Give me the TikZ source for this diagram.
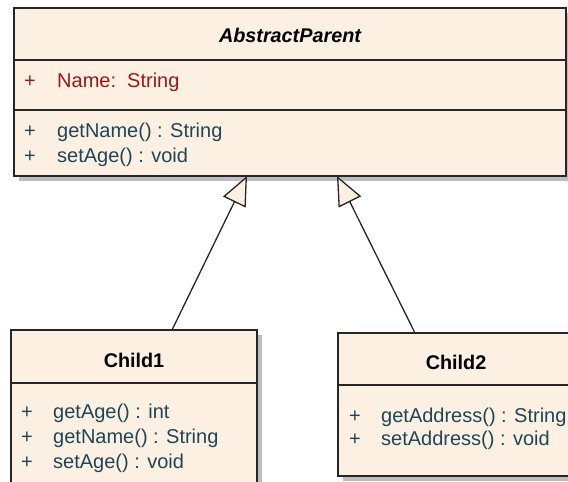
\documentclass[tikz,border=0pt]{standalone}
\usepackage{fontspec}
\setmainfont{Liberation Sans}
\usetikzlibrary{arrows.meta,calc,shadows}
\definecolor{cream}{HTML}{FBF0E2}
\definecolor{edge}{HTML}{262626}
\definecolor{member}{HTML}{1F4656}
\definecolor{attr}{HTML}{971A1A}
\definecolor{shade}{HTML}{BDBDBD}
\begin{document}
\begin{tikzpicture}[x=1pt,y=-1pt,
  umlbox/.style={draw=edge, line width=1.8pt, fill=cream, inner sep=0pt, outer sep=0pt, anchor=north west,
    drop shadow={shadow xshift=5pt, shadow yshift=-5pt, fill=shade, opacity=1}},
  divider/.style={draw=edge, line width=1.5pt},
  title/.style={font=\fontsize{19.8}{23}\selectfont\bfseries, anchor=base, inner sep=0pt},
  mem/.style={font=\fontsize{20}{23}\selectfont, text=member, anchor=base west, inner sep=0pt},
  atr/.style={font=\fontsize{20}{23}\selectfont, text=attr, anchor=base west, inner sep=0pt},
  inherit/.style={draw=edge, line width=1.3pt, -{Triangle[open, length=29pt, width=25pt, fill=cream, line width=1.3pt]}},
]
\useasboundingbox (0,0) rectangle (568,482);
\clip (0,0) rectangle (568,482);

% AbstractParent
\node[umlbox, minimum width=552pt, minimum height=168pt] (parent) at (14,8) {};
\draw[divider] (parent.west |- 0,60) -- (parent.east |- 0,60);
\draw[divider] (parent.west |- 0,110) -- (parent.east |- 0,110);
\node[title, font=\fontsize{19.8}{23}\selectfont\bfseries\itshape] (ptitle) at (290,42) {AbstractParent};
\node[atr] (pa1) at (24,87) {+};
\node[atr] (pa1t) at (57,87) {Name:\ \ String};
\node[mem] (pm1) at (24,137) {+};
\node[mem] (pm1t) at (57,137) {getName() : String};
\node[mem] (pm2) at (24,162) {+};
\node[mem] (pm2t) at (57,162) {setAge() : void};

% Child1
\node[umlbox, minimum width=246pt, minimum height=170pt] (child1) at (11,330) {};
\draw[divider] (child1.west |- 0,383) -- (child1.east |- 0,383);
\node[title] (c1title) at (134,367) {Child1};
\node[mem] (c1m1) at (21,418) {+};
\node[mem] (c1m1t) at (53,418) {getAge() : int};
\node[mem] (c1m2) at (21,443) {+};
\node[mem] (c1m2t) at (53,443) {getName() : String};
\node[mem] (c1m3) at (21,468) {+};
\node[mem] (c1m3t) at (53,468) {setAge() : void};

% Child2
\node[umlbox, minimum width=236pt, minimum height=143pt] (child2) at (338,333) {};
\draw[divider] (child2.west |- 0,385) -- (child2.east |- 0,385);
\node[title] (c2title) at (456,369) {Child2};
\node[mem] (c2m1) at (349,422) {+};
\node[mem] (c2m1t) at (381,422) {getAddress() : String};
\node[mem] (c2m2) at (349,445) {+};
\node[mem] (c2m2t) at (381,445) {setAddress() : void};

% generalizations
\coordinate (tip1) at (parent.south west -| 247,0);
\coordinate (tip2) at (parent.south west -| 337,0);
\draw[inherit] (child1.north west -| 172,0) -- (tip1);
\draw[inherit] (child2.north west -| 415,0) -- (tip2);
\end{tikzpicture}
\end{document}
